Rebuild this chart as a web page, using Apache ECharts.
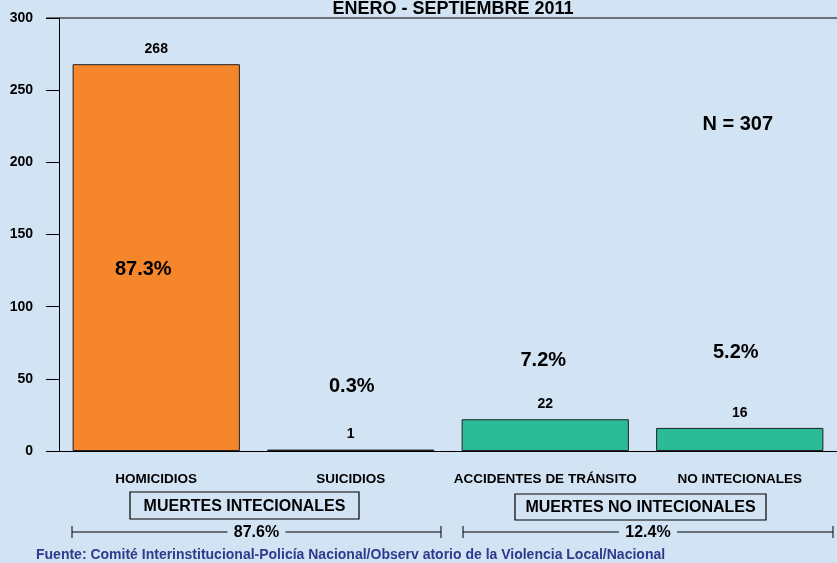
<!DOCTYPE html>
<html>
<head>
<meta charset="utf-8">
<script src="https://cdn.jsdelivr.net/npm/echarts@6/dist/echarts.min.js"></script>
<style>
  html, body { margin: 0; padding: 0; background: #d2e3f3; }
  #main { width: 837px; height: 563px; }
</style>
</head>
<body>
<div id="main"></div>
<script>
// categories and values
var categories = ['HOMICIDIOS', 'SUICIDIOS', 'ACCIDENTES DE TRÁNSITO', 'NO INTECIONALES'];
var values = [268, 1, 22, 16];
var barColors = ['#f5862b', '#f5862b', '#2bbb97', '#2bbb97'];
var percentLabels = ['87.3%', '0.3%', '7.2%', '5.2%'];
var yTicks = [0, 50, 100, 150, 200, 250, 300];
var groupNames = ['MUERTES INTECIONALES', 'MUERTES NO INTECIONALES'];
var groupShares = ['87.6%', '12.4%'];
var totalText = 'N = 307';
var titleText = 'ENERO - SEPTIEMBRE 2011';
var sourceText = 'Fuente: Comité Interinstitucional-Policía Nacional/Observ atorio de la Violencia Local/Nacional';

var font = 'Liberation Sans, Arial, sans-serif';
var chart = echarts.init(document.getElementById('main'));

var option = {
  backgroundColor: '#d2e3f3',
  animation: false,
  textStyle: { fontFamily: font },
  title: {
    text: titleText,
    left: 448,
    top: -5,
    textAlign: 'center',
    textStyle: { fontSize: 18, fontWeight: 'bold', color: '#000', fontFamily: font }
  },
  grid: { left: 59, top: 18, width: 785, height: 433 },
  xAxis: {
    type: 'category',
    data: categories,
    axisLine: { lineStyle: { color: '#000', width: 1 } },
    axisTick: { alignWithLabel: true, length: 10, lineStyle: { color: '#000' } },
    axisLabel: { interval: 0, color: '#000', fontWeight: 'bold', fontSize: 13.5, margin: 21, fontFamily: font }
  },
  yAxis: {
    type: 'value',
    min: yTicks[0],
    max: yTicks[yTicks.length - 1],
    interval: 50,
    axisLine: { show: true, lineStyle: { color: '#000', width: 1 } },
    axisTick: { show: true, length: 13, lineStyle: { color: '#000' } },
    axisLabel: { color: '#000', fontWeight: 'bold', fontSize: 14, margin: 26, fontFamily: font },
    splitLine: { show: false }
  },
  series: [{
    type: 'bar',
    barCategoryGap: '14%',
    data: values.map(function (v, i) {
      return { value: v, itemStyle: { color: barColors[i] } };
    }),
    itemStyle: { borderColor: '#222', borderWidth: 1 },
    label: {
      show: true,
      position: 'top',
      distance: 8,
      color: '#000',
      fontWeight: 'bold',
      fontSize: 14,
      fontFamily: font
    }
  }]
};
chart.setOption(option);

// annotations placed from the axes
function px(i, v) { return chart.convertToPixel({ seriesIndex: 0 }, [i, v]); }
// pixel offset from category centre, and value level
var pctPos = [[-13, 126], [1, 45], [-2, 63], [-4, 68]];
var g = [];
percentLabels.forEach(function (t, i) {
  var p = px(i, pctPos[i][1]);
  g.push({ type: 'text', z: 100, x: p[0] + pctPos[i][0], y: p[1], style: { text: t, font: 'bold 20px ' + font, fill: '#000', textAlign: 'center', textVerticalAlign: 'middle' } });
});
var nPos = px(3, 226);
g.push({ type: 'text', z: 100, x: nPos[0] - 2, y: nPos[1], style: { text: totalText, font: 'bold 20px ' + font, fill: '#000', textAlign: 'center', textVerticalAlign: 'middle' } });

// top border line
var top0 = px(0, 300)[1];
g.push({ type: 'line', shape: { x1: 46, y1: top0, x2: 837, y2: top0 }, style: { stroke: '#000', lineWidth: 1 } });

// group boxes and bracket lines
var boxes = [[130, 492, 229, 27], [515, 494, 251, 26]];
var brackets = [[72, 441], [463, 833]];
groupNames.forEach(function (name, i) {
  var b = boxes[i];
  g.push({ type: 'rect', shape: { x: b[0], y: b[1], width: b[2], height: b[3] }, style: { fill: 'none', stroke: '#000', lineWidth: 1.2 } });
  g.push({ type: 'text', x: b[0] + b[2] / 2, y: b[1] + b[3] / 2 + 1, style: { text: name, font: 'bold 16px ' + font, fill: '#000', textAlign: 'center', textVerticalAlign: 'middle' } });
  var br = brackets[i], y = 532, mid = (br[0] + br[1]) / 2;
  g.push({ type: 'line', shape: { x1: br[0], y1: y, x2: mid - 29, y2: y }, style: { stroke: '#000', lineWidth: 1 } });
  g.push({ type: 'line', shape: { x1: mid + 29, y1: y, x2: br[1], y2: y }, style: { stroke: '#000', lineWidth: 1 } });
  g.push({ type: 'line', shape: { x1: br[0], y1: y - 6, x2: br[0], y2: y + 6 }, style: { stroke: '#000', lineWidth: 1 } });
  g.push({ type: 'line', shape: { x1: br[1], y1: y - 6, x2: br[1], y2: y + 6 }, style: { stroke: '#000', lineWidth: 1 } });
  g.push({ type: 'text', x: mid, y: y + 1, style: { text: groupShares[i], font: 'bold 16px ' + font, fill: '#000', textAlign: 'center', textVerticalAlign: 'middle' } });
});

g.push({ type: 'text', x: 36, y: 555, style: { text: sourceText, font: 'bold 14px ' + font, fill: '#2e3a8c', textAlign: 'left', textVerticalAlign: 'middle' } });

chart.setOption({ graphic: g });
</script>
</body>
</html>
